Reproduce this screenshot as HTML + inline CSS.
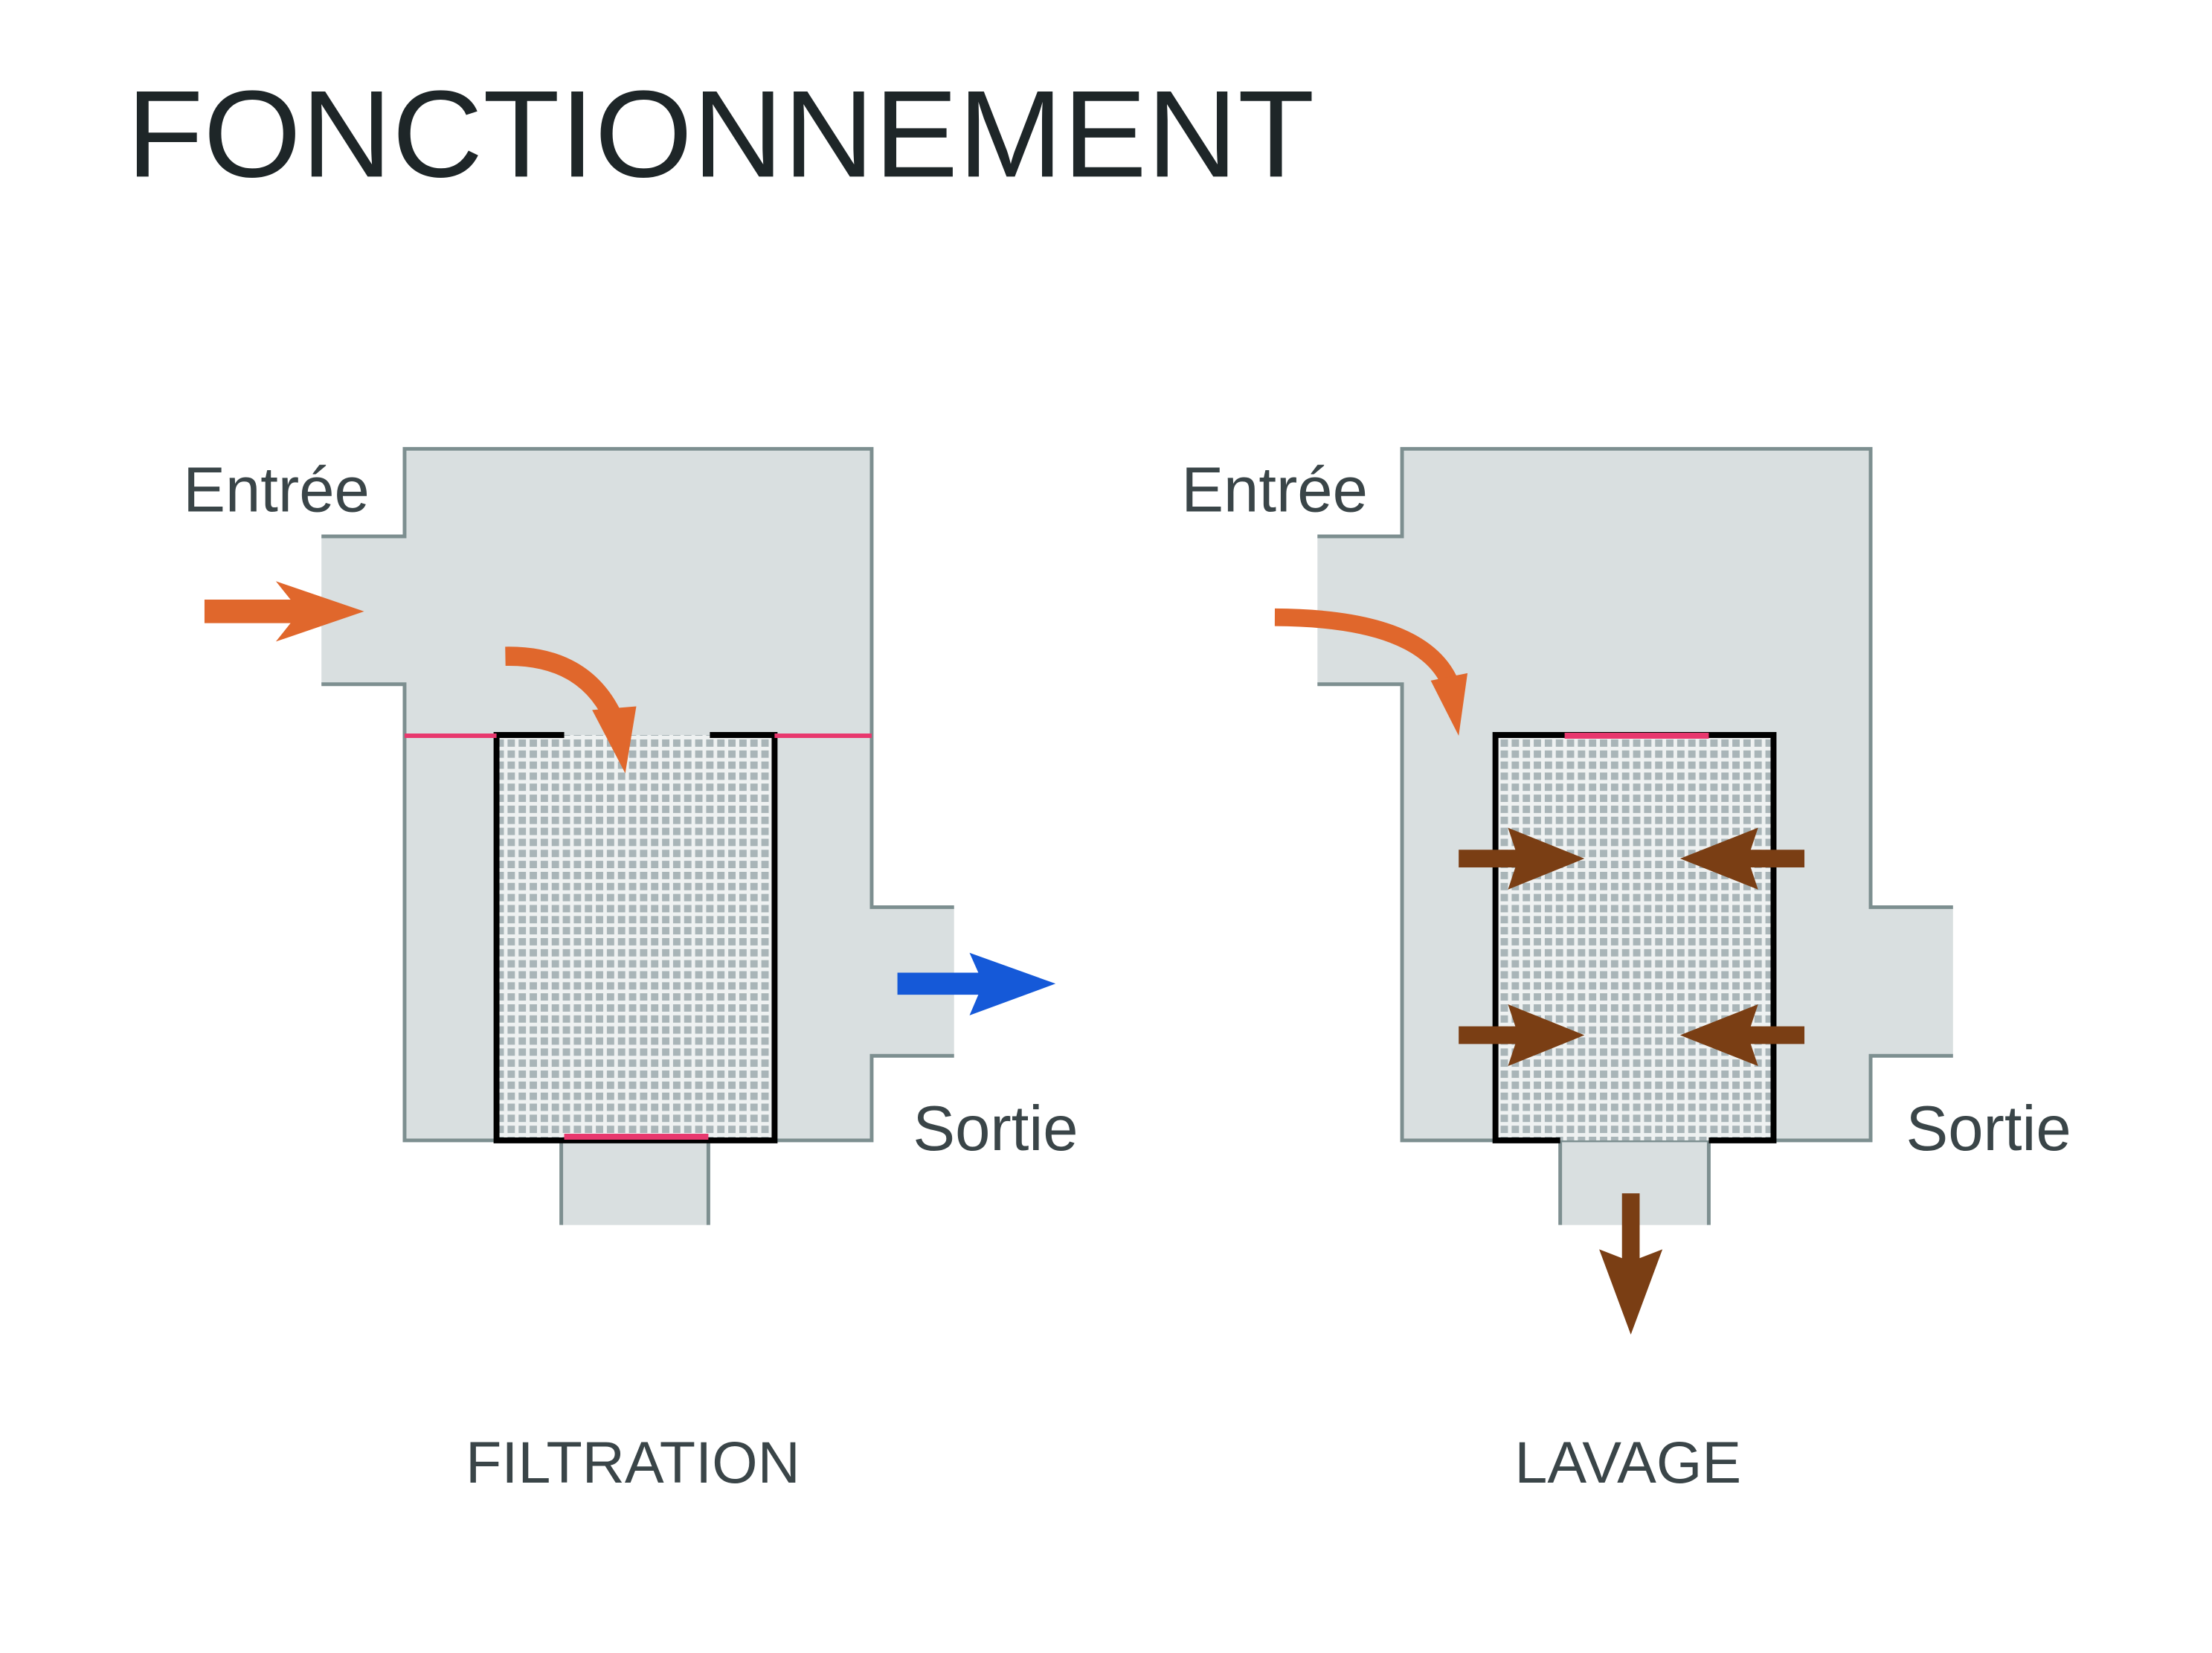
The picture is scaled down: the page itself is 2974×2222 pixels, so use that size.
<!DOCTYPE html>
<html><head><meta charset="utf-8"><style>
html,body{margin:0;padding:0;background:#fff;}
body{width:2974px;height:2222px;overflow:hidden;}
svg{display:block;}
</style></head><body>
<svg width="2974" height="2222" viewBox="0 0 2974 2222" xmlns="http://www.w3.org/2000/svg">
<defs>
<pattern id="mesh" width="15" height="15" patternUnits="userSpaceOnUse">
<rect width="15" height="15" fill="#eef1f1"/>
<rect x="0" y="0" width="10" height="10" fill="#a9b5b8"/>
</pattern>
</defs>
<g transform="scale(0.989)">
<text x="172" y="240" font-family="Liberation Sans, sans-serif" font-size="168" fill="#1e2628" textLength="1615" lengthAdjust="spacingAndGlyphs">FONCTIONNEMENT</text>

<!-- LEFT -->
<polygon points="550,610 1185,610 1185,1233 1297,1233 1297,1435 1185,1435 1185,1550 550,1550 550,930 437,930 437,729 550,729" fill="#d9dfe0"/>
<rect x="763" y="1550" width="200" height="115" fill="#d9dfe0"/>
<g fill="none" stroke="#7d8f90" stroke-width="5">
<polyline points="437,729 550,729 550,610 1185,610 1185,1233 1297,1233"/>
<polyline points="1297,1435 1185,1435 1185,1550 550,1550 550,930 437,930"/>
<line x1="763" y1="1550" x2="763" y2="1665"/>
<line x1="963" y1="1550" x2="963" y2="1665"/>
</g>
<rect x="675" y="999" width="378" height="551" fill="url(#mesh)"/>
<polyline points="767,999 675,999 675,1550 1053,1550 1053,999 965,999" fill="none" stroke="#000" stroke-width="8"/>
<line x1="550" y1="1000" x2="675" y2="1000" stroke="#e8386e" stroke-width="6"/>
<line x1="1053" y1="1000" x2="1185" y2="1000" stroke="#e8386e" stroke-width="6"/>
<line x1="767" y1="1545" x2="963" y2="1545" stroke="#e8386e" stroke-width="8"/>
<polygon points="278,815 395,815 375,790 495,831 375,872 395,847 278,847" fill="#e0672c"/>
<path d="M687,892 Q800,890 838,985" fill="none" stroke="#e0672c" stroke-width="26"/>
<polygon points="805,965 865,960 850,1051" fill="#e0672c"/>
<polygon points="1220,1322 1330,1322 1318,1295 1435,1337 1318,1380 1330,1352 1220,1352" fill="#1559d8"/>
<text x="249" y="695" font-family="Liberation Sans, sans-serif" font-size="86" fill="#3a4548">Entrée</text>
<text x="1241" y="1563" font-family="Liberation Sans, sans-serif" font-size="86" fill="#3a4548">Sortie</text>
<text x="633" y="2015" font-family="Liberation Sans, sans-serif" font-size="80" fill="#3a4548">FILTRATION</text>

<!-- RIGHT -->
<polygon points="1906,610 2543,610 2543,1233 2655,1233 2655,1435 2543,1435 2543,1550 1906,1550 1906,930 1791,930 1791,729 1906,729" fill="#d9dfe0"/>
<rect x="2121" y="1550" width="202" height="115" fill="#d9dfe0"/>
<g fill="none" stroke="#7d8f90" stroke-width="5">
<polyline points="1791,729 1906,729 1906,610 2543,610 2543,1233 2655,1233"/>
<polyline points="2655,1435 2543,1435 2543,1550 1906,1550 1906,930 1791,930"/>
<line x1="2121" y1="1550" x2="2121" y2="1665"/>
<line x1="2323" y1="1550" x2="2323" y2="1665"/>
</g>
<rect x="2033" y="999" width="378" height="551" fill="url(#mesh)"/>
<polyline points="2121,1550 2033,1550 2033,999 2411,999 2411,1550 2323,1550" fill="none" stroke="#000" stroke-width="8"/>
<line x1="2127" y1="1000" x2="2323" y2="1000" stroke="#e8386e" stroke-width="8"/>
<path d="M1733,839 Q1935,840 1972,930" fill="none" stroke="#e0672c" stroke-width="24"/>
<polygon points="1945,925 1995,915 1983,1000" fill="#e0672c"/>
<g fill="#7a3e14">
<polygon points="1983,1155 2060,1155 2050,1125 2154,1167 2050,1209 2060,1179 1983,1179"/>
<polygon points="1983,1395 2060,1395 2050,1365 2154,1407 2050,1449 2060,1419 1983,1419"/>
<polygon points="2453,1155 2380,1155 2390,1125 2284,1167 2390,1209 2380,1179 2453,1179"/>
<polygon points="2453,1395 2380,1395 2390,1365 2284,1407 2390,1449 2380,1419 2453,1419"/>
<polygon points="2205,1622 2229,1622 2229,1710 2260,1698 2217,1814 2174,1698 2205,1710"/>
</g>
<text x="1606" y="695" font-family="Liberation Sans, sans-serif" font-size="86" fill="#3a4548">Entrée</text>
<text x="2591" y="1563" font-family="Liberation Sans, sans-serif" font-size="86" fill="#3a4548">Sortie</text>
<text x="2059" y="2015" font-family="Liberation Sans, sans-serif" font-size="80" fill="#3a4548">LAVAGE</text>
</g>
</svg>
</body></html>
